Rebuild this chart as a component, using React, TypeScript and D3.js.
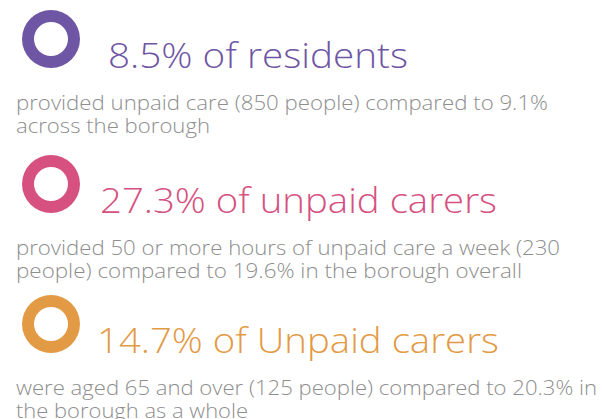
import React from "react";
import * as d3 from "d3";

// ---- data ----
const percentages = [8.5, 27.3, 14.7];
const headlineSuffixes = ["of residents", "of unpaid carers", "of Unpaid carers"];
const descriptionLines = [
  ["provided unpaid care (850 people) compared to 9.1%", "across the borough"],
  ["provided 50 or more hours of unpaid care a week (230", "people) compared to 19.6% in the borough overall"],
  ["were aged 65 and over (125 people) compared to 20.3% in", "the borough as a whole"],
];
const colors = ["#6f56a5", "#d6517f", "#e39a45"];

// ---- layout ----
const W = 602;
const H = 419;
const ringCx = 51;
const ringCenters = [39, 184, 324];
const outerR = 29;
const innerR = 17;
const titleX = [108, 100, 97];
const titleWidths = [300, 397, 402];
const bodyWidths = [
  [532, 194],
  [544, 506],
  [581, 232],
];
const titleDy = 29;
const bodyX = 16;
const bodyDy1 = 71;
const bodyDy2 = 94;
const textGrey = "#8e8e8e";

export default function App() {
  const arc = d3.arc<any>().innerRadius(innerR).outerRadius(outerR);
  const pie = d3.pie<number>().sort(null);
  const fmt = d3.format(".1f");
  const y = d3.scaleOrdinal<number, number>().domain(d3.range(percentages.length)).range(ringCenters);

  return (
    <svg
      width={W}
      height={H}
      style={{ position: "absolute", left: 0, top: 0, background: "#fff" }}
      fontFamily="'Open Sans', Lato, sans-serif"
    >
      {percentages.map((p, i) => {
        const cy = y(i);
        const slices = pie([1]);
        return (
          <g key={i}>
            <g transform={`translate(${ringCx},${cy})`}>
              {slices.map((s, j) => (
                <path key={j} d={arc(s) || ""} fill={colors[i]} />
              ))}
            </g>
            <text
              x={titleX[i]}
              y={cy + titleDy}
              fill={colors[i]}
              fontSize={35}
              fontWeight={300}
              textLength={titleWidths[i]}
              lengthAdjust="spacingAndGlyphs"
            >
              {`${fmt(p)}% ${headlineSuffixes[i]}`}
            </text>
            {descriptionLines[i].map((line, k) => (
              <text
                key={k}
                x={bodyX}
                y={cy + (k === 0 ? bodyDy1 : bodyDy2)}
                fill={textGrey}
                fontSize={21}
                fontWeight={300}
                textLength={bodyWidths[i][k]}
                lengthAdjust="spacingAndGlyphs"
              >
                {line}
              </text>
            ))}
          </g>
        );
      })}
    </svg>
  );
}
